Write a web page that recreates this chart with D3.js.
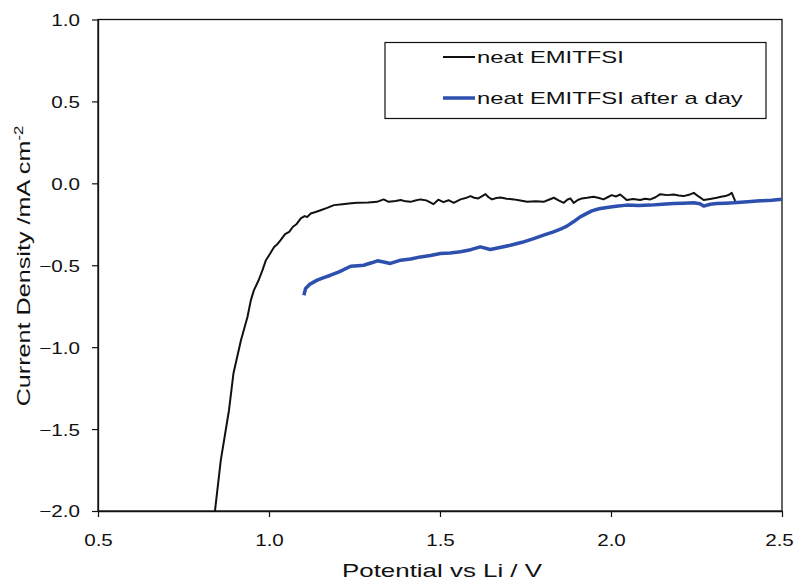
<!DOCTYPE html>
<html>
<head>
<meta charset="utf-8">
<script src="https://cdn.jsdelivr.net/npm/d3@7"></script>
<style>
  html, body { margin: 0; padding: 0; background: #fff; }
  svg { display: block; font-family: "Liberation Sans", Arial, sans-serif; }
</style>
</head>
<body>
<svg id="chart" width="795" height="582"></svg>
<script>
// ---- data ----
const xTicks = [0.5, 1.0, 1.5, 2.0, 2.5];
const yTicks = [1.0, 0.5, 0.0, -0.5, -1.0, -1.5, -2.0];
const seriesNames = ["neat EMITFSI", "neat EMITFSI after a day"];

// neat EMITFSI : potential (V) and current density (mA cm-2)
const neatV = [0.842, 0.859, 0.883, 0.896, 0.918, 0.937, 0.947, 0.956, 0.970, 0.981, 0.991, 1.003, 1.015, 1.025, 1.034, 1.047, 1.059, 1.070, 1.080, 1.093, 1.104, 1.112, 1.122, 1.136, 1.151, 1.170, 1.190, 1.215, 1.240, 1.258, 1.290, 1.316, 1.335, 1.350, 1.370, 1.385, 1.400, 1.414, 1.428, 1.443, 1.460, 1.481, 1.495, 1.510, 1.525, 1.540, 1.560, 1.575, 1.589, 1.600, 1.612, 1.622, 1.633, 1.642, 1.652, 1.665, 1.677, 1.695, 1.716, 1.735, 1.755, 1.780, 1.803, 1.818, 1.833, 1.848, 1.862, 1.872, 1.881, 1.891, 1.903, 1.915, 1.930, 1.949, 1.965, 1.978, 1.990, 2.002, 2.015, 2.027, 2.046, 2.065, 2.085, 2.100, 2.115, 2.130, 2.144, 2.165, 2.183, 2.198, 2.212, 2.228, 2.242, 2.256, 2.271, 2.290, 2.309, 2.322, 2.334, 2.345, 2.353, 2.363];
const neatI = [-2.000, -1.691, -1.385, -1.161, -0.958, -0.816, -0.713, -0.652, -0.590, -0.530, -0.469, -0.430, -0.388, -0.370, -0.347, -0.310, -0.296, -0.265, -0.250, -0.214, -0.200, -0.205, -0.184, -0.175, -0.164, -0.150, -0.133, -0.128, -0.122, -0.119, -0.117, -0.113, -0.098, -0.113, -0.108, -0.102, -0.110, -0.113, -0.105, -0.098, -0.104, -0.127, -0.100, -0.115, -0.103, -0.119, -0.098, -0.090, -0.078, -0.088, -0.092, -0.080, -0.066, -0.085, -0.098, -0.090, -0.086, -0.094, -0.098, -0.105, -0.113, -0.110, -0.113, -0.100, -0.088, -0.105, -0.119, -0.100, -0.092, -0.119, -0.102, -0.092, -0.088, -0.082, -0.090, -0.098, -0.085, -0.072, -0.080, -0.068, -0.102, -0.096, -0.102, -0.094, -0.098, -0.085, -0.066, -0.072, -0.068, -0.074, -0.078, -0.070, -0.058, -0.080, -0.102, -0.095, -0.088, -0.082, -0.078, -0.070, -0.058, -0.107];

// neat EMITFSI after a day
const dayV = [1.102, 1.107, 1.120, 1.141, 1.160, 1.180, 1.205, 1.239, 1.260, 1.277, 1.300, 1.317, 1.335, 1.355, 1.385, 1.414, 1.443, 1.472, 1.501, 1.530, 1.560, 1.590, 1.618, 1.647, 1.675, 1.706, 1.740, 1.774, 1.805, 1.832, 1.852, 1.871, 1.890, 1.910, 1.928, 1.944, 1.965, 1.988, 2.015, 2.046, 2.080, 2.115, 2.150, 2.183, 2.212, 2.242, 2.260, 2.271, 2.290, 2.309, 2.335, 2.358, 2.400, 2.436, 2.470, 2.503];
const dayI = [-0.683, -0.642, -0.615, -0.591, -0.575, -0.561, -0.540, -0.506, -0.503, -0.500, -0.485, -0.473, -0.480, -0.489, -0.469, -0.462, -0.449, -0.440, -0.428, -0.425, -0.418, -0.405, -0.388, -0.404, -0.392, -0.378, -0.360, -0.337, -0.315, -0.296, -0.280, -0.261, -0.235, -0.205, -0.185, -0.168, -0.155, -0.147, -0.140, -0.133, -0.135, -0.133, -0.128, -0.123, -0.121, -0.119, -0.125, -0.139, -0.128, -0.123, -0.121, -0.119, -0.112, -0.107, -0.103, -0.097];

// ---- layout ----
const svg = d3.select("#chart");
const pL = 98, pR = 782, pT = 19.5, pB = 511;
const INK = "#111";
const BLUE = "#2d4fae";

const x = d3.scaleLinear().domain([0.5, 2.5]).range([pL, pR]);
const y = d3.scaleLinear().domain([-2.0, 1.0]).range([pB, pT]);

svg.append("clipPath").attr("id", "clip")
  .append("rect").attr("x", pL).attr("y", pT)
  .attr("width", pR - pL).attr("height", pB - pT);

// frame
svg.append("rect").attr("x", pL).attr("y", pT)
  .attr("width", pR - pL).attr("height", pB - pT)
  .attr("fill", "none").attr("stroke", INK).attr("stroke-width", 1.3);

// axes
const fmt = d3.format(".1f");
const xAxis = svg.append("g").attr("transform", `translate(0,${pB})`)
  .call(d3.axisBottom(x).tickValues(xTicks).tickFormat(fmt).tickSizeInner(6).tickSizeOuter(0));
const yAxis = svg.append("g").attr("transform", `translate(${pL},0)`)
  .call(d3.axisLeft(y).tickValues(yTicks).tickFormat(fmt).tickSizeInner(6).tickSizeOuter(0));
[xAxis, yAxis].forEach(a => {
  a.select(".domain").attr("stroke", INK).attr("stroke-width", 1.3);
  a.selectAll(".tick line").attr("stroke", INK).attr("stroke-width", 1.2);
  a.selectAll(".tick text").attr("fill", INK)
    .style("font-family", "'Liberation Sans', Arial, sans-serif").style("font-size", "16.5px");
});
const lastX = xTicks[xTicks.length - 1];
xAxis.selectAll(".tick text")
  .attr("x", 0).attr("y", 0).attr("dy", 0)
  .attr("transform", d => `translate(${d === lastX ? -3 : 0},35) scale(1.25,1)`);
yAxis.selectAll(".tick text")
  .attr("x", 0).attr("dy", "0.36em")
  .attr("transform", "translate(-18,0) scale(1.25,1)");

// axis titles
svg.append("text")
  .attr("transform", `translate(442,577) scale(1.4,1)`)
  .attr("text-anchor", "middle").attr("fill", INK).style("font-size", "18.5px")
  .text("Potential vs Li / V");

const yt = svg.append("text")
  .attr("transform", `translate(30,266) rotate(-90) scale(1.4,1)`)
  .attr("text-anchor", "middle").attr("fill", INK).style("font-size", "18px");
yt.append("tspan").text("Current Density /mA cm");
yt.append("tspan").attr("dy", -7).style("font-size", "12px").text("-2");

// lines
const line = d3.line().x(d => x(d[0])).y(d => y(d[1]));
const neat = neatV.map((v, i) => [v, neatI[i]]);
const day = dayV.map((v, i) => [v, dayI[i]]);

const g = svg.append("g").attr("clip-path", "url(#clip)");
g.append("path").datum(day).attr("d", line)
  .attr("fill", "none").attr("stroke", BLUE).attr("stroke-width", 3.5)
  .attr("stroke-linejoin", "round");
g.append("path").datum(neat).attr("d", line)
  .attr("fill", "none").attr("stroke", INK).attr("stroke-width", 2)
  .attr("stroke-linejoin", "round");

// legend
const lg = svg.append("g");
lg.append("rect").attr("x", 385).attr("y", 42.5).attr("width", 381).attr("height", 76)
  .attr("fill", "#fff").attr("stroke", INK).attr("stroke-width", 1.2);
const legendItems = [
  { name: seriesNames[0], color: INK, w: 2, yy: 57 },
  { name: seriesNames[1], color: BLUE, w: 3.5, yy: 98 }
];
legendItems.forEach(it => {
  lg.append("line").attr("x1", 443).attr("x2", 475).attr("y1", it.yy).attr("y2", it.yy)
    .attr("stroke", it.color).attr("stroke-width", it.w);
  lg.append("text")
    .attr("transform", `translate(477,${it.yy + 6}) scale(1.4,1)`)
    .attr("fill", INK).style("font-size", "17px").text(it.name);
});
</script>
</body>
</html>
